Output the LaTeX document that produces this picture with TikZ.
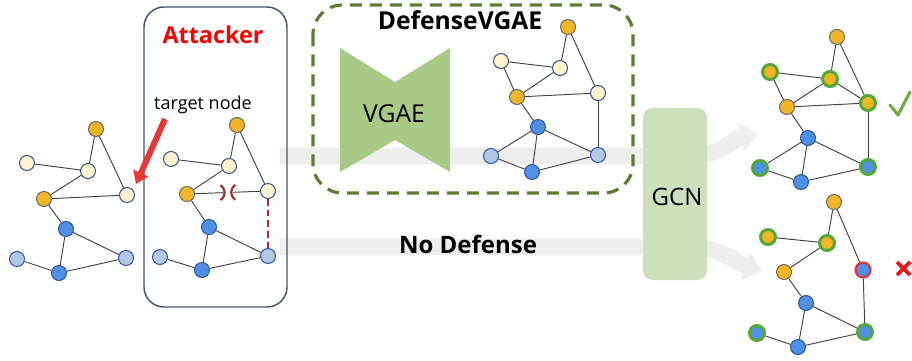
\documentclass[tikz,border=0pt]{standalone}
\usepackage{fontspec}
\setmainfont{Open Sans}
\usetikzlibrary{arrows.meta,calc}
\definecolor{orangeN}{RGB}{242,181,40}
\definecolor{creamN}{RGB}{255,242,204}
\definecolor{blueN}{RGB}{79,143,230}
\definecolor{lblueN}{RGB}{180,199,231}
\definecolor{nborder}{RGB}{47,85,151}
\definecolor{oborder}{RGB}{105,105,105}
\definecolor{ringG}{RGB}{84,168,55}
\definecolor{ringR}{RGB}{224,50,50}
\definecolor{edgeC}{RGB}{64,64,64}
\definecolor{bandC}{RGB}{238,238,238}
\definecolor{vgaeC}{RGB}{169,201,134}
\definecolor{gcnC}{RGB}{206,223,188}
\definecolor{dashG}{RGB}{90,125,50}
\definecolor{attB}{RGB}{68,84,106}
\definecolor{arrR}{RGB}{229,57,53}
\definecolor{cutR}{RGB}{170,40,40}
\definecolor{checkG}{RGB}{112,173,71}
\definecolor{crossR}{RGB}{235,20,20}
\tikzset{
  gnode/.style={circle,minimum size=11.25pt,inner sep=0pt,line width=0.75pt},
  orn/.style={gnode,fill=orangeN,draw=oborder},
  crn/.style={gnode,fill=creamN,draw=nborder},
  bln/.style={gnode,fill=blueN,draw=nborder},
  lbn/.style={gnode,fill=lblueN,draw=nborder},
  gring/.style={draw=ringG,line width=2.25pt},
  rring/.style={draw=ringR,line width=1.6pt},
  edge/.style={draw=edgeC,line width=0.7pt},
  band/.style={draw=bandC,line width=12.5pt,-{Triangle[length=13pt,width=22pt]}},
  cutmark/.style={draw=cutR,line width=1.6pt},
  lbl/.style={anchor=base,inner sep=0pt}
}
\begin{document}
\begin{tikzpicture}[x=0.75pt,y=-0.75pt]
\useasboundingbox (0,0) rectangle (912,360);
% gray bands
\coordinate (bt0) at (280,156);
\coordinate (bt1) at (690,156);
\coordinate (bt2) at (758,134);
\coordinate (bb0) at (280,247);
\coordinate (bb1) at (690,247);
\coordinate (bb2) at (762,271);
\draw[band] (bt0) -- (bt1) .. controls (722,156) and (732,139) .. (bt2);
\draw[band] (bb0) -- (bb1) .. controls (722,247) and (736,263) .. (bb2);
% boxes
\draw[attB,line width=1.1pt,rounded corners=15pt] (144,7) rectangle (287,307);
\draw[dashG,line width=2.4pt,dash pattern=on 9pt off 6pt,rounded corners=22pt] (313,5) rectangle (633,193);
\node[draw=none,fill=gcnC,rounded corners=7pt,minimum width=48pt,minimum height=129pt,inner sep=0pt] (gcn) at (675,194) {};
\node[lbl,font=\fontsize{18}{20}\selectfont] at (677,205) {GCN};
\fill[vgaeC] (340,48) -- (395,82) -- (450,48) -- (450,172) -- (395,140) -- (340,172) -- cycle;
\node[lbl,font=\fontsize{18.5}{20}\selectfont] (vgae) at (394,122) {VGAE};
% texts
\node[lbl,font=\fontsize{17.5}{20}\selectfont\bfseries,text=red] (att) at (213,44) {Attacker};
\node[lbl,font=\fontsize{18.5}{20}\selectfont\bfseries] (dv) at (460,30) {DefenseVGAE};
\node[lbl,font=\fontsize{18}{20}\selectfont\bfseries] (nd) at (468,253) {No Defense};
\node[lbl,font=\fontsize{13.5}{16}\selectfont] (tn) at (203,109) {target node};
% red arrow
\coordinate (ra0) at (165,119);
\coordinate (ra1) at (136,184);
\draw[arrR,line width=4.5pt,-{Triangle[length=9pt,width=12pt]}] (ra0) -- (ra1);
% graph 1
\node[orn] (pa) at (96,129) {};
\node[crn] (pb) at (27,163) {};
\node[crn] (pc) at (88,171) {};
\node[orn] (pd) at (44,199) {};
\node[crn] (pe) at (127,195) {};
\node[bln] (pf) at (66,229) {};
\node[lbn] (pg) at (17,259) {};
\node[bln] (ph) at (59,273) {};
\node[lbn] (pi) at (126,258) {};
\foreach \u/\v in {a/c,a/e,b/c,c/d,d/e,d/f,f/h,f/i,g/h,h/i} \draw[edge] (p\u) -- (p\v);
% graph 2 (attacker)
\node[orn] (qa) at (237,125) {};
\node[crn] (qb) at (171,159) {};
\node[crn] (qc) at (229,166) {};
\node[orn] (qd) at (187,194) {};
\node[crn] (qe) at (268,191) {};
\node[bln] (qf) at (209,227) {};
\node[lbn] (qg) at (160,257) {};
\node[bln] (qh) at (202,270) {};
\node[lbn] (qi) at (268,256) {};
\foreach \u/\v in {a/c,a/e,b/c,c/d,d/f,f/h,f/i,g/h,h/i} \draw[edge] (q\u) -- (q\v);
\coordinate (cut1) at ($(qd)!0.445!(qe)$);
\coordinate (cut2) at ($(qd)!0.565!(qe)$);
\draw[edge] (qd) -- (cut1);
\draw[edge] (cut2) -- (qe);
\draw[cutmark] ($(cut1)+(-2.5,-7.5)$) .. controls ($(cut1)+(3,-3)$) and ($(cut1)+(3,3)$) .. ($(cut1)+(-2.5,7.5)$);
\draw[cutmark] ($(cut2)+(2.5,-7.5)$) .. controls ($(cut2)+(-3,-3)$) and ($(cut2)+(-3,3)$) .. ($(cut2)+(2.5,7.5)$);
\draw[cutR,line width=1.2pt,dash pattern=on 5pt off 3pt] (qe) -- (qi);
% graph 3 (DefenseVGAE)
\node[orn] (ra) at (568,27) {};
\node[crn] (rb) at (501,61) {};
\node[crn] (rc) at (560,68) {};
\node[orn] (rd) at (517,97) {};
\node[crn] (re) at (598,93) {};
\node[bln] (rf) at (538,127) {};
\node[lbn] (rg) at (491,156) {};
\node[bln] (rh) at (532,172) {};
\node[lbn] (ri) at (598,155) {};
\foreach \u/\v in {a/c,a/e,b/c,b/d,c/d,d/e,d/f,f/g,f/h,f/i,g/h,h/i,e/i} \draw[edge] (r\u) -- (r\v);
% graph 4 (defended output)
\node[orn] (sa) at (837,37) {};
\node[orn,gring] (sb) at (770,72) {};
\node[orn,gring] (sc) at (830,79) {};
\node[orn] (sd) at (787,107) {};
\node[orn,gring] (se) at (868,103) {};
\node[bln] (sf) at (808,138) {};
\node[bln,gring] (sg) at (760,168) {};
\node[bln] (sh) at (801,182) {};
\node[bln,gring] (si) at (868,167) {};
\foreach \u/\v in {a/c,a/e,b/c,b/d,c/d,c/e,d/e,d/f,e/i,f/g,f/h,f/i,g/h,h/i} \draw[edge] (s\u) -- (s\v);
% graph 5 (no defense output)
\node[orn] (ta) at (834,202) {};
\node[orn,gring] (tb) at (768,237) {};
\node[orn,gring] (tc) at (827,243) {};
\node[orn] (td) at (784,272) {};
\node[bln,rring] (te) at (863,270) {};
\node[bln] (tf) at (806,303) {};
\node[bln,gring] (tg) at (757,333) {};
\node[bln] (th) at (798,347) {};
\node[bln,gring] (ti) at (865,332) {};
\foreach \u/\v in {a/c,a/e,b/c,c/d,d/f,f/h,f/i,g/h,h/i,e/i} \draw[edge] (t\u) -- (t\v);
% check and cross
\draw[checkG,line width=2.4pt,line cap=round,line join=round] (890,105) -- (898,115) -- (910,92);
\draw[crossR,line width=2.8pt] (897,262) -- (910,275) (897,275) -- (910,262);
\end{tikzpicture}
\end{document}
